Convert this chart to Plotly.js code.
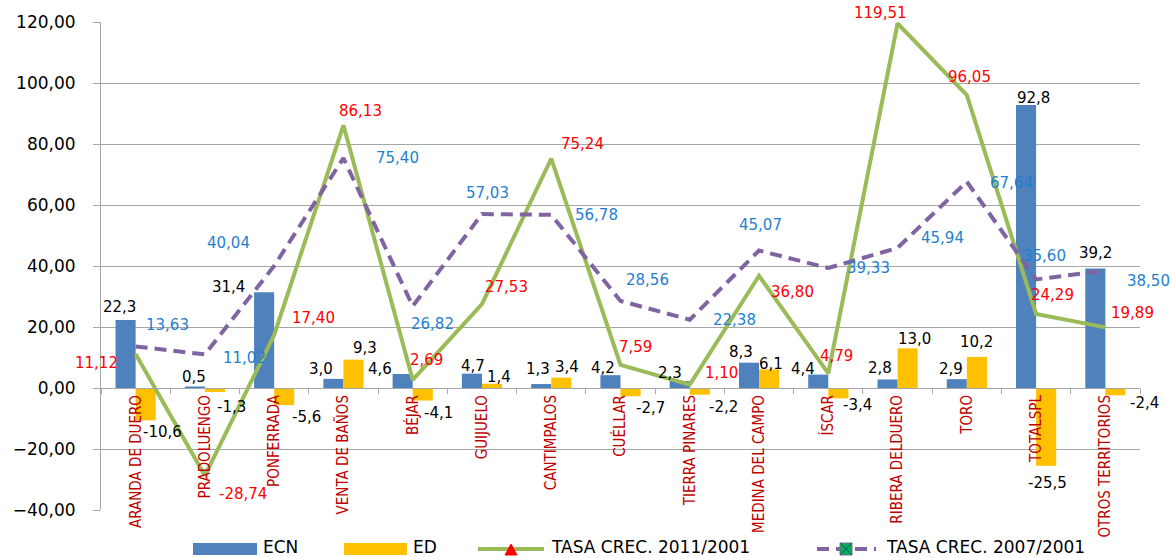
<!DOCTYPE html>
<html>
<head>
<meta charset="utf-8">
<script src="https://cdn.plot.ly/plotly-3.0.1.min.js"></script>
<style>html,body{margin:0;padding:0;background:#fff;}#chart{width:1172px;height:558px;}</style>
</head>
<body>
<div id="chart"></div>
<script>
// ---- DATA ----
const categories = ['ARANDA DE DUERO','PRADOLUENGO','PONFERRADA','VENTA DE BAÑOS','BÉJAR','GUIJUELO','CANTIMPALOS','CUÉLLAR','TIERRA PINARES','MEDINA DEL CAMPO','ÍSCAR','RIBERA DELDUERO','TORO','TOTALSPL','OTROS TERRITORIOS'];
const ecn = [22.3, 0.5, 31.4, 3.0, 4.6, 4.7, 1.3, 4.2, 2.3, 8.3, 4.4, 2.8, 2.9, 92.8, 39.2];
const ed = [-10.6, -1.3, -5.6, 9.3, -4.1, 1.4, 3.4, -2.7, -2.2, 6.1, -3.4, 13.0, 10.2, -25.5, -2.4];
const tasa2011 = [11.12, -28.74, 17.40, 86.13, 2.69, 27.53, 75.24, 7.59, 1.10, 36.80, 4.79, 119.51, 96.05, 24.29, 19.89];
const tasa2007 = [13.63, 11.02, 40.04, 75.40, 26.82, 57.03, 56.78, 28.56, 22.38, 45.07, 39.33, 45.94, 67.64, 35.60, 38.50];
const seriesNames = ['ECN', 'ED', 'TASA CREC. 2011/2001', 'TASA CREC. 2007/2001'];

// ---- LABEL PLACEMENT (pixel offsets from each point) ----
const ecnDX = [-16,-11,-46,-22,-33,-9,-13,-18,-20,-18,-25,-18,-16,-3,-10];
const ecnDY = [13,9,5,10,5,8,15,7,8,11,6,11,10,7,15];
const edDX = [27,27,32,22,26,17,16,30,34,12,29,17,10,11,39];
const edDY = [-12,-15,-12,12,-12,7,11,-12,-12,5,-7,9,15,-17,-8];
const t11DX = [-39,38,39,17,14,25,31,15,32,33,8,-17,3,16,27];
const t11DY = [-9,-18,17,14,20,17,15,18,12,-16,17,10,18,19,14];
const t07DX = [32,40,-46,54,20,6,45,27,45,1,40,45,45,8,43];
const t07DY = [21,-4,23,0,-18,21,0,21,0,26,0,10,-1,23,-10];

const FONT = 'DejaVu Sans, Verdana, sans-serif';
const fmt = (v, d) => v.toFixed(d).replace('.', ',');

const traces = [
  {type:'bar', name:seriesNames[0], x:categories, y:ecn, marker:{color:'#4f81bd'}},
  {type:'bar', name:seriesNames[1], x:categories, y:ed, marker:{color:'#ffc000'}},
  {type:'scatter', mode:'lines', name:seriesNames[2], x:categories, y:tasa2011, line:{color:'#9bbb59', width:4}},
  {type:'scatter', mode:'lines', name:seriesNames[3], x:categories, y:tasa2007, line:{color:'#8064a2', width:4, dash:'12px,7px'}}
];

const annotations = [];
function addLabels(vals, dec, dx, dy, color) {
  vals.forEach((v, i) => {
    annotations.push({x: categories[i], y: v, xref:'x', yref:'y', text: fmt(v, dec), showarrow:false,
      xshift: dx[i], yshift: dy[i], font:{family:FONT, size:15, color:color}});
  });
}
addLabels(ecn, 1, ecnDX, ecnDY, '#000000');
addLabels(ed, 1, edDX, edDY, '#000000');
addLabels(tasa2011, 2, t11DX, t11DY, '#ff0000');
addLabels(tasa2007, 2, t07DX, t07DY, '#1f7fcf');

// ---- custom legend ----
const W = 1039, H = 488, L = 101, B = 510;
const px = p => (p - L) / W;
const py = p => (B - p) / H;
const shapes = [
  {type:'rect', xref:'paper', yref:'paper', x0:px(193), x1:px(257), y0:py(555), y1:py(543), fillcolor:'#4f81bd', line:{width:0}},
  {type:'rect', xref:'paper', yref:'paper', x0:px(344), x1:px(407), y0:py(555), y1:py(543), fillcolor:'#ffc000', line:{width:0}},
  {type:'line', xref:'paper', yref:'paper', x0:px(478), x1:px(544), y0:py(549), y1:py(549), line:{color:'#9bbb59', width:4}},
  {type:'path', xref:'paper', yref:'paper', path:`M ${px(505)} ${py(555)} L ${px(517)} ${py(555)} L ${px(511)} ${py(544)} Z`, fillcolor:'#ff0000', line:{color:'#ff0000', width:1}},
  {type:'line', xref:'paper', yref:'paper', x0:px(817), x1:px(876), y0:py(549), y1:py(549), line:{color:'#8064a2', width:4, dash:'12px,7px'}},
  {type:'rect', xref:'paper', yref:'paper', x0:px(840), x1:px(852), y0:py(555), y1:py(543), fillcolor:'#00b050', line:{color:'#8064a2', width:1}},
  {type:'line', xref:'paper', yref:'paper', x0:px(840), x1:px(852), y0:py(555), y1:py(543), line:{color:'#1f4e79', width:1}},
  {type:'line', xref:'paper', yref:'paper', x0:px(840), x1:px(852), y0:py(543), y1:py(555), line:{color:'#1f4e79', width:1}}
];
const legendText = [[262, seriesNames[0]], [412, seriesNames[1]], [550, seriesNames[2]], [885, seriesNames[3]]];
legendText.forEach(([x, t]) => annotations.push({xref:'paper', yref:'paper', x:px(x), y:py(547), xanchor:'left', yanchor:'middle',
  text:t, showarrow:false, borderpad:0, font:{family:FONT, size:17, color:'#000'}}));

const layout = {
  width:1172, height:558,
  margin:{l:101, r:32, t:22, b:48, pad:0},
  paper_bgcolor:'#fff', plot_bgcolor:'#fff',
  showlegend:false,
  barmode:'group', bargap:0.42, bargroupgap:0,
  separators:',.',
  xaxis:{
    type:'category', range:[-0.5, 14.5], anchor:'free', position:0.25,
    showline:true, linecolor:'#a6a6a6', linewidth:1,
    ticks:'outside', ticklen:5, tickcolor:'#a6a6a6', tickson:'boundaries',
    tickangle:-90, showgrid:false,
    tickfont:{family:'Liberation Sans Narrow, DejaVu Sans Condensed, Arial Narrow, sans-serif', size:15, color:'#c00000'}
  },
  yaxis:{
    range:[-40, 120], dtick:20, tickformat:'.2f',
    showline:true, linecolor:'#a6a6a6', linewidth:1,
    ticks:'outside', ticklen:7, tickcolor:'#a6a6a6', ticklabelstandoff:14,
    showgrid:true, gridcolor:'#a6a6a6', gridwidth:1, zeroline:false,
    tickfont:{family:FONT, size:17, color:'#000'}
  },
  annotations: annotations,
  shapes: shapes
};

Plotly.newPlot('chart', traces, layout, {displayModeBar:false, staticPlot:true});
</script>
</body>
</html>
